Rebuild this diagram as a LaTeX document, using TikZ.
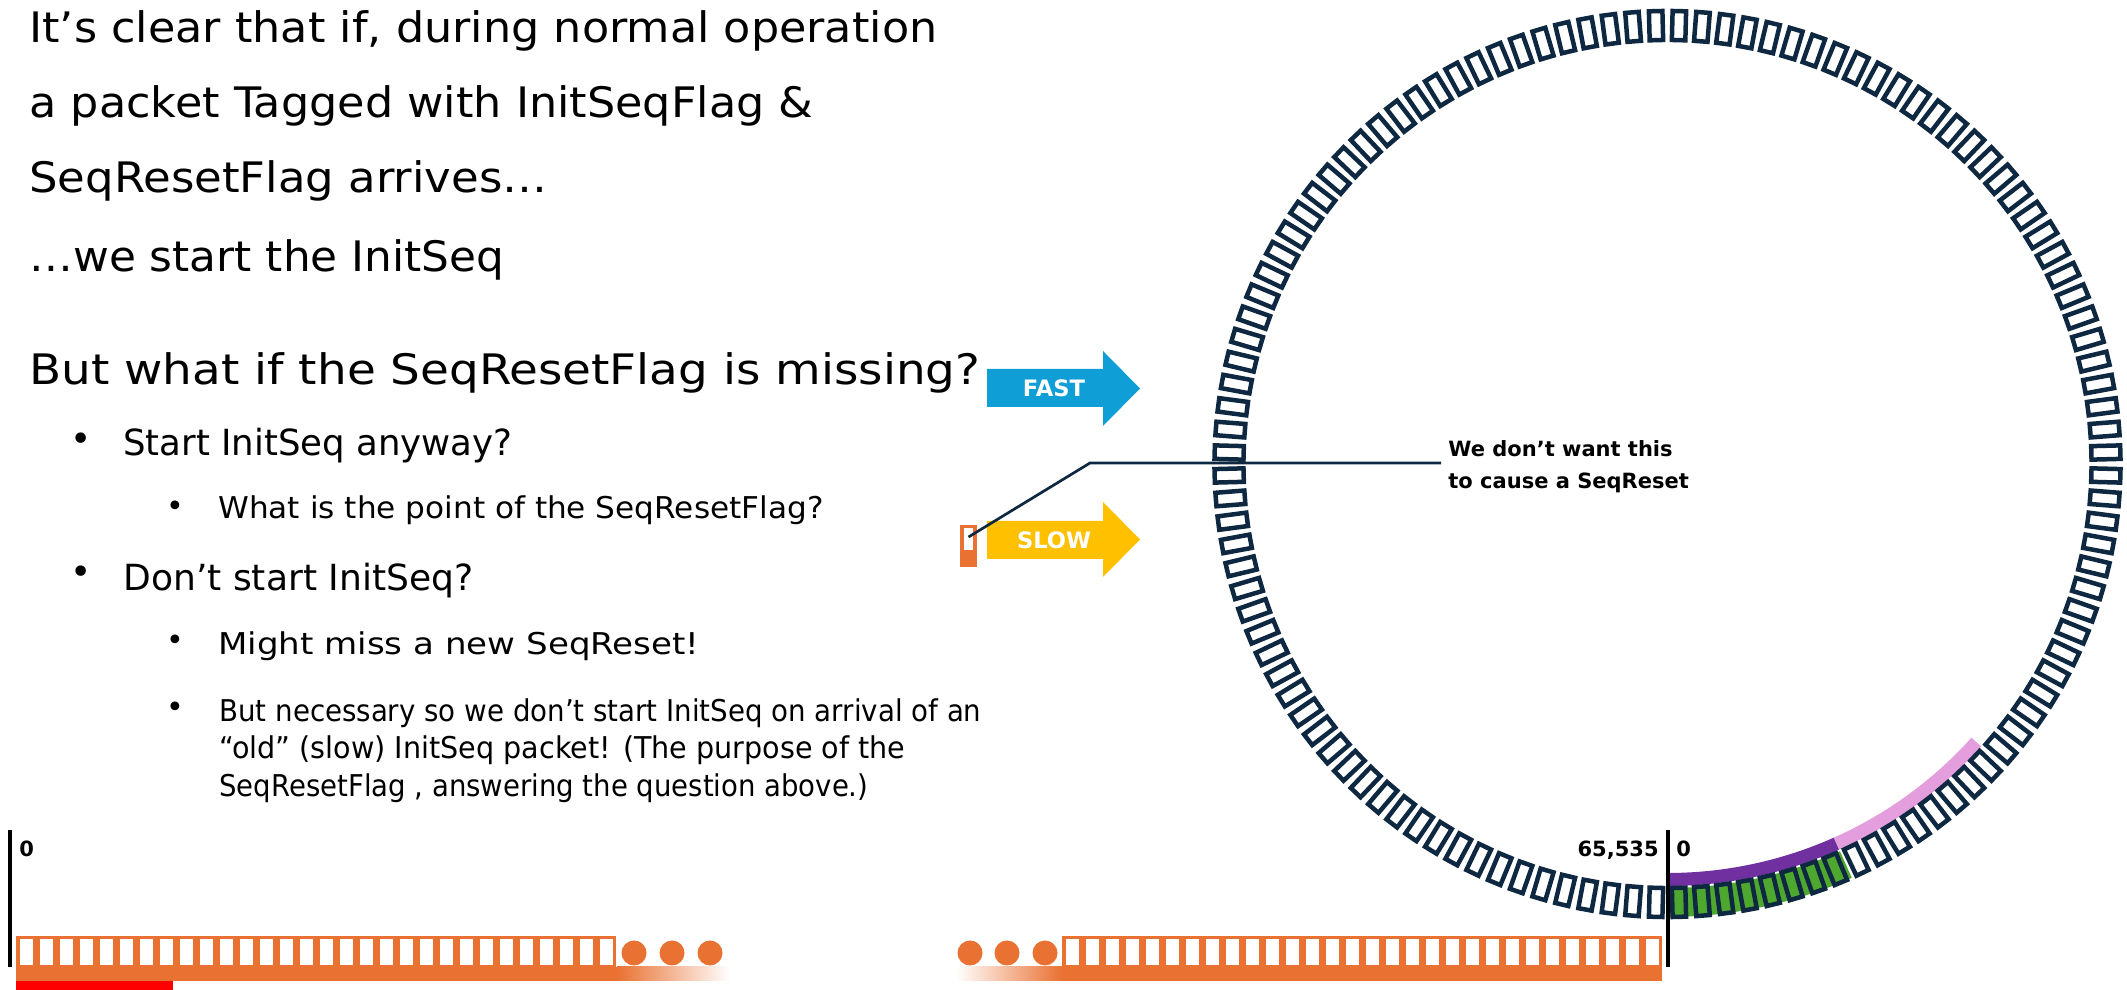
\documentclass[tikz,border=0pt]{standalone}
\usepackage{fontspec}
\usepackage{graphicx}
\setmainfont{DejaVu Sans}
\usetikzlibrary{calc}
\definecolor{ringc}{HTML}{0E2841}
\definecolor{orng}{HTML}{E97132}
\definecolor{fastc}{HTML}{0F9ED5}
\definecolor{slowc}{HTML}{FFC000}
\definecolor{grn}{HTML}{4EA72E}
\definecolor{purp}{HTML}{7030A0}
\definecolor{pinkc}{HTML}{E59EDD}
\definecolor{redc}{HTML}{FF0000}
\newcommand{\fitw}[2]{\resizebox{#1}{\height}{#2}}
\begin{document}
\begin{tikzpicture}[x=0.5pt,y=0.5pt,
  head/.style={font=\fontsize{21}{26}\selectfont, anchor=base west, inner sep=0},
  lvlone/.style={font=\fontsize{18}{22}\selectfont, anchor=base west, inner sep=0},
  lvltwo/.style={font=\fontsize{15}{19}\selectfont, anchor=base west, inner sep=0},
  bulone/.style={font=\fontsize{18}{22}\selectfont, inner sep=0},
  bultwo/.style={font=\fontsize{15}{19}\selectfont, inner sep=0},
  lbl/.style={font=\bfseries\fontsize{10.5}{16}\selectfont, inner sep=0},
  ringbox/.style={draw=ringc, line width=2.25pt, minimum width=14.5pt, minimum height=6.75pt, inner sep=0, outer sep=0},
  obox/.style={draw=orng, line width=1.75pt},
  arrowlbl/.style={font=\bfseries\fontsize{11.3}{13}\selectfont, text=white, inner sep=0},
  axisline/.style={draw=black, line width=1.75pt},
]
\useasboundingbox (0,0) rectangle (2127,990);

% ---- text ----
\node[head] (t1) at (29,947) {\fitw{454pt}{It’s clear that if, during normal operation}};
\node[head] (t2) at (29,872) {\fitw{392pt}{a packet Tagged with InitSeqFlag \&}};
\node[head] (t3) at (29,797) {\fitw{259pt}{SeqResetFlag arrives…}};
\node[head] (t4) at (29,718) {\fitw{237.5pt}{…we start the InitSeq}};
\node[head] (t5) at (29,605) {\fitw{475.5pt}{But what if the SeqResetFlag is missing?}};

\node[bulone] (b1) at (81,548) {•};
\node[lvlone] (s1) at (123,534) {\fitw{194.5pt}{Start InitSeq anyway?}};
\node[bultwo] (b2) at (175,481) {•};
\node[lvltwo] (s2) at (218,471) {\fitw{302.5pt}{What is the point of the SeqResetFlag?}};
\node[bulone] (b3) at (81,415) {•};
\node[lvlone] (s3) at (123,399) {\fitw{175pt}{Don’t start InitSeq?}};
\node[bultwo] (b4) at (175,347) {•};
\node[lvltwo] (s4) at (218,335) {\fitw{240.5pt}{Might miss a new SeqReset!}};
\node[bultwo] (b5) at (175,280) {•};
\node[lvltwo] (s5) at (219,268) {\fitw{381pt}{But necessary so we don’t start InitSeq on arrival of an}};
\node[lvltwo] (s6) at (219,231) {\fitw{343pt}{“old” (slow) InitSeq packet! (The purpose of the}};
\node[lvltwo] (s7) at (219,193) {\fitw{324.5pt}{SeqResetFlag , answering the question above.)}};

% ---- ring ----
\begin{scope}[shift={(1667.5,526)}]
  \fill[grn] (270:424) arc[start angle=270,end angle=294,radius=424] -- (294:453) arc[start angle=294,end angle=270,radius=453] -- cycle;
  \fill[purp] (270:409) arc[start angle=270,end angle=294,radius=409] -- (294:422) arc[start angle=294,end angle=270,radius=422] -- cycle;
  \fill[pinkc] (294:409) arc[start angle=294,end angle=318,radius=409] -- (318:422) arc[start angle=318,end angle=294,radius=422] -- cycle;
  \foreach \k in {0,...,119} {
    \pgfmathsetmacro\a{271.5+3*\k}
    \node[ringbox, rotate=\a] (rb\k) at (\a:438.5) {};
  }
\end{scope}

% ---- linear sequences ----
\foreach \i in {0,...,29} {
  \draw[obox] ({16+20*\i+1.75},23) rectangle ({16+20*\i+18.25},52.25);
  \draw[obox] ({1062+20*\i+1.75},23) rectangle ({1062+20*\i+18.25},52.25);
}
\fill[orng] (16,9) rectangle (617,23);
\shade[left color=orng, right color=white] (617,9) rectangle (730,23);
\shade[left color=white, right color=orng] (956,9) rectangle (1062,23);
\fill[orng] (1062,9) rectangle (1662,23);
\fill[redc] (16,0) rectangle (173,9);
\foreach \x in {634,672,710,970,1007,1045} { \fill[orng] (\x,37) circle[radius=12.5]; }

\draw[axisline] (10,23) -- (10,160);
\draw[axisline] (1668,23) -- (1668,160);
\node[lbl, anchor=base west] (zl) at (19,133) {0};
\node[lbl, anchor=base east] (mx) at (1659,133) {65,535};
\node[lbl, anchor=base west] (zr) at (1676,133) {0};

% ---- arrows ----
\fill[fastc] (987,583) -- (1103,583) -- (1103,564) -- (1140,601.5) -- (1103,639) -- (1103,621) -- (987,621) -- cycle;
\node[arrowlbl] (fast) at (1054,602) {FAST};
\fill[slowc] (987,431) -- (1103,431) -- (1103,413) -- (1140,450.5) -- (1103,488) -- (1103,469) -- (987,469) -- cycle;
\node[arrowlbl] (slow) at (1054,450) {SLOW};

% ---- packet and callout ----
\node[fill=orng, minimum width=8.5pt, minimum height=21pt, inner sep=0] (pkt) at (968.5,444) {};
\fill[white] (964,440) rectangle (973,462);
\node[lbl, align=left, anchor=west, inner xsep=3.5pt, inner ysep=0] (note) at (1441,523) {We don’t want this\\to cause a SeqReset};
\coordinate (bend) at (1090,527);
\draw[ringc, line width=1.35pt] ($(pkt.center)+(0,9)$) -- (bend) -- (bend -| note.west);
\end{tikzpicture}
\end{document}
